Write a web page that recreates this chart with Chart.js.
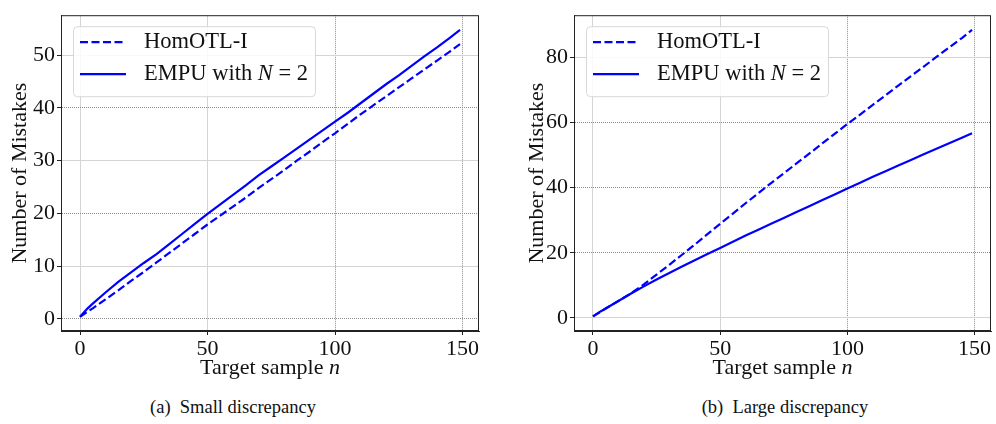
<!DOCTYPE html>
<html>
<head>
<meta charset="utf-8">
<script src="https://cdn.jsdelivr.net/npm/chart.js@4/dist/chart.umd.min.js"></script>
<style>
  body { margin: 0; background: #fff; width: 996px; height: 424px; overflow: hidden; position: relative; }
  canvas { position: absolute; top: 0; }
  #small { left: 0; }
  #large { left: 496px; }
  .caption { position: absolute; top: 397px; font: 18.5px 'Liberation Serif', 'DejaVu Serif', serif; color: #111; transform: translateX(-50%); white-space: pre; }
</style>
</head>
<body>
<canvas id="small" width="492" height="386"></canvas>
<canvas id="large" width="500" height="386"></canvas>
<div class="caption" style="left:233px">(a)  Small discrepancy</div>
<div class="caption" style="left:785px">(b)  Large discrepancy</div>
<script>
// target sample index n at which the mistake counts were recorded
var sampleN = [0, 3, 5, 10, 15, 20, 25, 30, 35, 40, 45, 50, 55, 60, 65, 70, 75,
    80, 85, 90, 95, 100, 105, 110, 115, 120, 125, 130, 135, 140, 145, 149];

// (a) small discrepancy
var smallHomOTL = [0.4, 1.4, 2.0, 3.7, 5.4, 7.2, 8.9, 10.7, 12.5, 14.3, 16.1, 17.9, 19.6, 21.3, 23.0, 24.8, 26.5,
    28.2, 30.0, 31.7, 33.5, 35.2, 37.0, 38.8, 40.5, 42.2, 43.9, 45.6, 47.3, 49.0, 50.7, 52.1];
var smallEMPU = [0.4, 2.0, 2.9, 5.0, 7.0, 8.8, 10.6, 12.3, 14.2, 16.1, 18.0, 19.9, 21.7, 23.5, 25.3, 27.2, 28.9,
    30.6, 32.3, 34.0, 35.7, 37.4, 39.1, 40.9, 42.7, 44.5, 46.2, 48.0, 49.8, 51.5, 53.3, 54.8];

// (b) large discrepancy
var largeHomOTL = [0.5, 1.9, 2.9, 5.2, 7.6, 10.3, 13.3, 16.3, 19.4, 22.5, 25.7, 28.9, 32.0, 35.2, 38.3, 41.4, 44.4,
    47.4, 50.4, 53.5, 56.5, 59.5, 62.4, 65.4, 68.3, 71.3, 74.2, 77.1, 80.1, 83.0, 85.9, 88.4];
var largeEMPU = [0.5, 2.0, 2.9, 5.2, 7.5, 9.7, 11.8, 13.8, 15.8, 17.7, 19.6, 21.5, 23.4, 25.3, 27.1, 28.9, 30.7,
    32.5, 34.3, 36.1, 37.9, 39.7, 41.5, 43.3, 45.0, 46.8, 48.5, 50.2, 51.9, 53.6, 55.3, 56.7];

var xTicks = [0, 50, 100, 150];
var smallYTicks = [0, 10, 20, 30, 40, 50];
var largeYTicks = [0, 20, 40, 60, 80];

var SERIF = "'Liberation Serif', 'DejaVu Serif', serif";
var BLUE = '#0000ff';

Chart.defaults.font.family = SERIF;
Chart.defaults.color = '#111';

function points(ys) {
    return sampleN.map(function (n, i) { return { x: n, y: ys[i] }; });
}

// writes text where a lone N or n is a math symbol, set in italics
function mathText(ctx, text, x, y, size, align) {
    var parts = text.split(/(\b[Nn]\b)/);
    var fontOf = function (p) { return (/^[Nn]$/.test(p) ? 'italic ' : '') + size + 'px ' + SERIF; };
    if (align === 'center') {
        var w = 0;
        parts.forEach(function (p) { ctx.font = fontOf(p); w += ctx.measureText(p).width; });
        x -= w / 2;
    }
    ctx.textAlign = 'left';
    ctx.textBaseline = 'middle';
    parts.forEach(function (p) {
        ctx.font = fontOf(p);
        ctx.fillText(p, x, y);
        x += ctx.measureText(p).width;
    });
}

// frame around the plot area, legend box in the upper left corner, x axis title
var frameLegend = {
    id: 'frameLegend',
    afterDatasetsDraw: function (chart) {
        var ctx = chart.ctx, a = chart.chartArea;
        ctx.save();
        ctx.strokeStyle = '#222';
        ctx.lineWidth = 1;
        ctx.setLineDash([]);
        ctx.strokeRect(a.left + 0.5, a.top + 0.5, a.right - a.left - 1, a.bottom - a.top - 1);

        var bx = a.left + 12, by = a.top + 11, bw = 242, bh = 70;
        ctx.beginPath();
        ctx.roundRect(bx + 0.5, by + 0.5, bw, bh, 4);
        ctx.fillStyle = 'rgba(255,255,255,0.85)';
        ctx.fill();
        ctx.strokeStyle = '#d8d8d8';
        ctx.stroke();

        chart.data.datasets.forEach(function (ds, i) {
            var y = by + 16 + i * 32;
            ctx.beginPath();
            ctx.setLineDash(ds.borderDash || []);
            ctx.strokeStyle = ds.borderColor;
            ctx.lineWidth = ds.borderWidth;
            ctx.moveTo(bx + 7, y);
            ctx.lineTo(bx + 53, y);
            ctx.stroke();
            ctx.setLineDash([]);
            ctx.fillStyle = '#111';
            mathText(ctx, ds.label, bx + 71, y, 22.5, 'left');
        });

        ctx.fillStyle = '#111';
        mathText(ctx, 'Target sample n', (a.left + a.right) / 2, 368, 22, 'center');
        ctx.restore();
    }
};

function gridOpts(darkValues) {
    return {
        color: function (c) {
            return c.tick && darkValues.indexOf(c.tick.value) >= 0 ? '#8c8c8c' : '#d4d4d4';
        },
        lineWidth: 1,
        tickLength: 4,
        tickColor: '#222',
        tickWidth: 1,
        tickBorderDash: []
    };
}

function borderOpts(darkValues) {
    return {
        display: true,
        color: '#222',
        width: 1,
        dash: function (c) {
            return c.tick && darkValues.indexOf(c.tick.value) >= 0 ? [1, 1] : [];
        }
    };
}

function makeChart(id, homotl, empu, yTicks, yMin, yMax, yDark, yAxisWidth, yTitlePad, padRight) {
    return new Chart(document.getElementById(id), {
        type: 'line',
        data: {
            datasets: [
                {
                    label: 'HomOTL-I',
                    data: points(homotl),
                    borderColor: BLUE,
                    borderWidth: 2.2,
                    borderDash: [8, 3.5]
                },
                {
                    label: 'EMPU with N = 2',
                    data: points(empu),
                    borderColor: BLUE,
                    borderWidth: 2.2
                }
            ]
        },
        options: {
            responsive: false,
            animation: false,
            devicePixelRatio: 1,
            elements: { point: { radius: 0 }, line: { tension: 0 } },
            layout: { padding: { top: 6, right: padRight, left: 0, bottom: 0 } },
            plugins: { legend: { display: false }, tooltip: { enabled: false } },
            scales: {
                x: {
                    type: 'linear',
                    min: -7.45,
                    max: 156.45,
                    afterBuildTicks: function (s) { s.ticks = xTicks.map(function (v) { return { value: v }; }); },
                    afterFit: function (s) { s.height = 55; },
                    ticks: { font: { size: 22 }, padding: 1, maxRotation: 0, color: '#111' },
                    grid: gridOpts([100, 150]),
                    border: borderOpts([100, 150])
                },
                y: {
                    min: yMin,
                    max: yMax,
                    afterBuildTicks: function (s) { s.ticks = yTicks.map(function (v) { return { value: v }; }); },
                    afterFit: function (s) { s.width = yAxisWidth; },
                    ticks: { font: { size: 22 }, padding: 2, color: '#111' },
                    grid: gridOpts(yDark),
                    border: borderOpts(yDark),
                    title: {
                        display: true,
                        text: 'Number of Mistakes',
                        font: { size: 22 },
                        color: '#111',
                        padding: { top: yTitlePad, bottom: 0 }
                    }
                }
            }
        },
        plugins: [frameLegend]
    });
}

makeChart('small', smallHomOTL, smallEMPU, smallYTicks, -2.3, 57.6, [0, 20, 40], 61, 7, 13);
makeChart('large', largeHomOTL, largeEMPU, largeYTicks, -4.0, 92.9, [20, 40, 60], 78, 28, 5);
</script>
</body>
</html>
